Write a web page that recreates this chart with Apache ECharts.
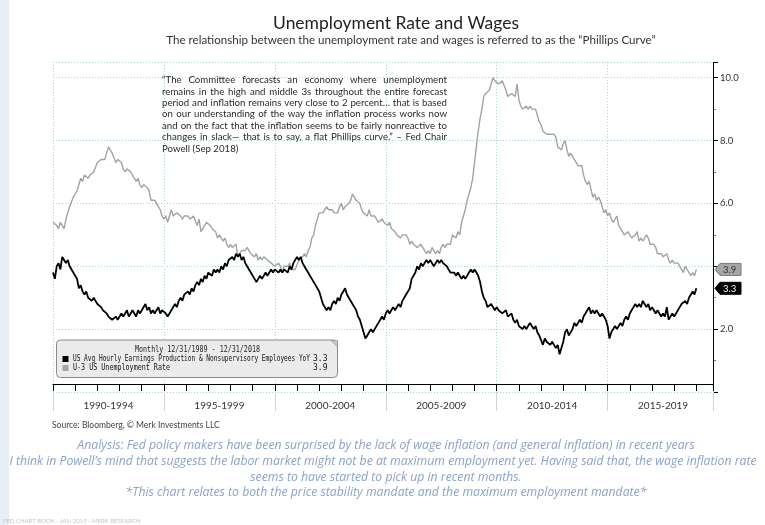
<!DOCTYPE html>
<html><head><meta charset="utf-8">
<script src="https://cdn.jsdelivr.net/npm/echarts@6/dist/echarts.min.js"></script>
<style>html,body{margin:0;padding:0;background:#fff}#c{width:765px;height:525px}</style>
</head><body><div id="c"></div>
<script>
// ---------------- DATA ----------------
// Monthly, first point = 12/31/1989 (plotted at 1990.0), last = 12/31/2018
const startYear = 1990;
const wageYoY = [
3.8,
3.6,4.0,4.1,3.9,4.3,4.2,4.1,4.2,4.0,3.9,3.8,3.7,
3.6,3.3,3.4,3.2,3.1,3.2,3.0,3.0,2.9,3.0,2.9,2.8,
2.8,2.7,2.6,2.6,2.5,2.4,2.4,2.3,2.3,2.4,2.3,2.4,
2.5,2.4,2.5,2.6,2.4,2.5,2.6,2.5,2.4,2.6,2.5,2.6,
2.6,2.8,2.6,2.7,2.5,2.6,2.5,2.6,2.7,2.5,2.6,2.6,
2.5,2.4,2.5,2.6,2.6,2.8,2.7,2.9,3.0,2.9,3.1,3.1,
3.2,3.1,3.3,3.2,3.4,3.5,3.4,3.6,3.5,3.7,3.6,3.8,
3.8,3.7,3.9,3.8,3.9,3.8,4.0,3.9,4.1,4.0,4.2,4.2,
4.3,4.2,4.4,4.3,4.4,4.2,4.3,4.1,4.0,3.9,3.8,3.7,
3.6,3.5,3.6,3.7,3.6,3.7,3.8,3.7,3.8,3.9,3.8,3.9,
3.9,3.8,3.9,3.8,3.9,3.9,3.8,4.0,3.9,4.1,4.2,4.3,
4.2,4.3,4.1,4.0,3.9,3.8,3.7,3.6,3.5,3.4,3.4,3.2,
3.0,2.8,2.7,2.6,2.7,2.6,2.8,2.9,2.8,3.0,2.9,3.1,
3.2,3.3,3.1,3.0,3.0,2.8,2.7,2.6,2.4,2.3,2.1,1.9,
1.7,1.8,1.9,2.0,1.9,2.0,2.0,2.2,2.3,2.4,2.3,2.5,
2.6,2.5,2.6,2.7,2.6,2.7,2.8,2.7,2.9,3.0,3.1,3.2,
3.3,3.6,3.7,3.8,4.0,3.9,4.1,4.0,4.1,4.2,4.1,4.2,
4.2,4.0,4.1,4.2,4.1,4.2,4.1,4.1,4.0,3.9,3.8,3.8,
3.8,3.7,3.8,3.7,3.6,3.7,3.6,3.7,3.8,3.9,3.8,3.9,
3.8,3.7,3.5,3.2,3.0,2.9,2.7,2.7,2.8,2.7,2.6,2.7,
2.6,2.6,2.5,2.5,2.6,2.4,2.4,2.5,2.3,2.2,2.3,2.1,
2.1,2.0,2.1,2.0,2.1,2.2,2.1,2.0,2.1,1.9,1.8,1.8,
1.5,1.7,1.6,1.6,1.5,1.6,1.5,1.4,1.5,1.2,1.4,1.6,
1.9,2.0,1.8,1.9,2.0,2.2,2.1,2.2,2.3,2.2,2.4,2.5,
2.6,2.7,2.5,2.6,2.5,2.6,2.5,2.4,2.5,2.4,2.3,2.1,
1.7,1.9,2.0,2.1,2.0,2.1,2.2,2.1,2.3,2.4,2.3,2.5,
2.6,2.7,2.8,2.7,2.8,2.7,2.9,2.8,2.7,2.8,2.6,2.7,
2.6,2.5,2.6,2.5,2.4,2.5,2.4,2.7,2.3,2.4,2.5,2.4,
2.5,2.6,2.7,2.8,2.8,2.9,2.8,3.0,3.0,3.2,3.1,3.3
];
const unemployment = [
5.4,
5.4,5.3,5.2,5.4,5.4,5.2,5.5,5.7,5.9,5.9,6.2,6.3,
6.4,6.6,6.8,6.7,6.9,6.9,6.8,6.9,6.9,7.0,7.0,7.3,
7.3,7.4,7.4,7.4,7.6,7.8,7.7,7.6,7.6,7.3,7.4,7.4,
7.3,7.1,7.0,7.1,7.1,7.0,6.9,6.8,6.7,6.8,6.6,6.5,
6.6,6.6,6.5,6.4,6.1,6.1,6.1,6.0,5.9,5.8,5.6,5.5,
5.6,5.4,5.4,5.8,5.6,5.6,5.7,5.7,5.6,5.5,5.6,5.6,
5.6,5.5,5.5,5.6,5.6,5.3,5.5,5.1,5.2,5.2,5.4,5.4,
5.3,5.2,5.2,5.1,4.9,5.0,4.9,4.8,4.9,4.7,4.6,4.7,
4.6,4.6,4.7,4.3,4.4,4.5,4.5,4.5,4.6,4.5,4.4,4.4,
4.3,4.4,4.2,4.3,4.2,4.3,4.3,4.2,4.2,4.1,4.1,4.0,
4.0,4.1,4.0,3.8,4.0,4.0,4.0,4.1,3.9,3.9,3.9,3.9,
4.2,4.2,4.3,4.4,4.3,4.5,4.6,4.9,5.0,5.3,5.5,5.7,
5.7,5.7,5.7,5.9,5.8,5.8,5.8,5.7,5.7,5.7,5.9,6.0,
5.8,5.9,5.9,6.0,6.1,6.3,6.2,6.1,6.1,6.0,5.8,5.7,
5.7,5.6,5.8,5.6,5.6,5.6,5.5,5.4,5.4,5.5,5.4,5.4,
5.3,5.4,5.2,5.2,5.1,5.0,5.0,4.9,5.0,5.0,5.0,4.9,
4.7,4.8,4.7,4.7,4.6,4.6,4.7,4.7,4.5,4.4,4.5,4.4,
4.6,4.5,4.4,4.5,4.4,4.6,4.7,4.6,4.7,4.7,4.7,5.0,
5.0,4.9,5.1,5.0,5.4,5.6,5.8,6.1,6.1,6.5,6.8,7.3,
7.8,8.3,8.7,9.0,9.4,9.5,9.5,9.6,9.8,10.0,9.9,9.9,
9.8,9.8,9.9,9.9,9.6,9.4,9.4,9.5,9.5,9.4,9.8,9.3,
9.1,9.0,9.0,9.1,9.0,9.1,9.0,9.0,9.0,8.8,8.6,8.5,
8.3,8.3,8.2,8.2,8.2,8.2,8.2,8.1,7.8,7.8,7.7,7.9,
8.0,7.7,7.5,7.6,7.5,7.5,7.3,7.2,7.2,7.2,6.9,6.7,
6.6,6.7,6.7,6.2,6.3,6.1,6.2,6.1,5.9,5.7,5.8,5.6,
5.7,5.5,5.4,5.4,5.6,5.3,5.2,5.1,5.0,5.0,5.1,5.0,
4.9,4.9,5.0,5.1,4.8,4.9,4.8,4.9,5.0,4.9,4.7,4.7,
4.7,4.6,4.4,4.4,4.4,4.3,4.3,4.4,4.2,4.1,4.2,4.1,
4.1,4.1,4.0,4.0,3.8,4.0,3.9,3.8,3.7,3.8,3.7,3.9
];
const xBandLabels = ['1990-1994','1995-1999','2000-2004','2005-2009','2010-2014','2015-2019'];
const yLabelValues = [2, 6, 8, 10];
const seriesNames = ['US Avg Hourly Earnings Production & Nonsupervisory Employees YoY', 'U-3 US Unemployment Rate'];
const rangeLabel = 'Monthly 12/31/1989 - 12/31/2018';
const titleText = 'Unemployment Rate and Wages';
const subtitleText = 'The relationship between the unemployment rate and wages is referred to as the \u201CPhillips Curve\u201D';
const quoteLines = [
 '\u201CThe Committee forecasts an economy where unemployment',
 'remains in the high and middle 3s throughout the entire forecast',
 'period and inflation remains very close to 2 percent\u2026 that is based',
 'on our understanding of the way the inflation process works now',
 'and on the fact that the inflation seems to be fairly nonreactive to',
 'changes in slack\u2014 that is to say, a flat Phillips curve.\u201D \u2013 Fed Chair',
 'Powell (Sep 2018)'
];
const sourceText = 'Source: Bloomberg, \u00A9 Merk Investments LLC';
const analysisLines = [
 'Analysis: Fed policy makers have been surprised by the lack of wage inflation (and general inflation) in recent years',
 'I think in Powell\u2019s mind that suggests the labor market might not be at maximum employment yet. Having said that, the wage inflation rate',
 'seems to have started to pick up in recent months.',
 '*This chart relates to both the price stability mandate and the maximum employment mandate*'
];
const footerText = 'FED CHART BOOK - JAN 2019 - MERK RESEARCH';

// ---------------- CHART ----------------
const toPts = arr => arr.map((v, i) => [startYear + i / 12, v]);
const X_MIN = 1990, X_MAX = 2019.75;
const GRID = '#9fd6de';
const gridLine = {show: true, lineStyle: {color: GRID, type: [1, 2], width: 1, opacity: 1}};
const chart = echarts.init(document.getElementById('c'), null, {renderer: 'canvas'});

const baseX = {
  type: 'value', min: X_MIN, max: X_MAX, position: 'bottom', offset: -8,
  axisLine: {show: false}, axisTick: {show: false}, axisLabel: {show: false},
  splitLine: {show: false}, minorSplitLine: {show: false}
};

chart.setOption({
  animation: false,
  backgroundColor: '#fff',
  grid: {left: 53, right: 52, top: 62, bottom: 133},
  xAxis: [
    Object.assign({}, baseX, {
      interval: 1,
      axisLine: {show: true, lineStyle: {color: '#000', width: 1}},
      axisTick: {show: true, inside: false, length: 7, lineStyle: {color: '#000', width: 1}},
      z: 5
    }),
    Object.assign({}, baseX, {
      interval: 5,
      axisTick: {show: true, inside: false, length: 27, lineStyle: {color: '#d4d4d4', width: 1}},
      splitLine: gridLine,
      z: 1
    }),
    Object.assign({}, baseX, {
      interval: 2.5,
      axisLabel: {
        show: true, margin: 17, color: '#333', fontSize: 10, fontFamily: 'Lato',
        showMinLabel: false, showMaxLabel: false,
        formatter: v => {
          const k = (v - 1992.5) / 5;
          return (Math.abs(k - Math.round(k)) < 1e-6 && xBandLabels[Math.round(k)]) ? xBandLabels[Math.round(k)] : '';
        }
      }
    })
  ],
  yAxis: {
    type: 'value', position: 'right', min: 0, max: 10.5, interval: 2,
    axisLine: {show: false},
    axisTick: {show: true, inside: false, length: 5, lineStyle: {color: '#000'}},
    minorTick: {show: true, splitNumber: 2, length: 3, lineStyle: {color: '#777'}},
    minorSplitLine: {show: false},
    axisLabel: {
      show: true, margin: 7, color: '#333', fontSize: 9.5, fontFamily: 'Lato',
      formatter: v => yLabelValues.indexOf(v) >= 0 ? v.toFixed(1) : ''
    },
    splitLine: gridLine
  },
  series: [
    {name: seriesNames[1], type: 'line', data: toPts(unemployment), showSymbol: false, xAxisIndex: 0,
     lineStyle: {color: '#a3a3a3', width: 1.4}, itemStyle: {color: '#a3a3a3'}, z: 3},
    {name: seriesNames[0], type: 'line', data: toPts(wageYoY), showSymbol: false, xAxisIndex: 0,
     lineStyle: {color: '#000', width: 1.8}, itemStyle: {color: '#000'}, z: 4}
  ]
});

// ---------------- TEXT / ANNOTATIONS ----------------
const cv = document.createElement('canvas').getContext('2d');
function measure(t, size, family, style, weight) {
  cv.font = `${style || 'normal'} ${weight || 'normal'} ${size}px ${family}`;
  return cv.measureText(t).width;
}
const G = [];
function txt(t, x, y, o) {
  o = o || {};
  let size = o.size || 10;
  const fam = o.family || 'Lato';
  if (o.fitW) size = size * o.fitW / measure(t, size, fam, o.style, o.weight);
  const el = {
    type: 'text', x: x, y: y, z: 100, silent: true,
    style: {text: t, fill: o.color || '#333', fontSize: size, fontFamily: fam,
      fontStyle: o.style || 'normal', fontWeight: o.weight || 'normal',
      align: o.align || 'left', verticalAlign: o.va || 'middle'}
  };
  if (o.squeezeW) {
    el.scaleX = o.squeezeW / measure(t, size, fam, o.style, o.weight);
  }
  G.push(el);
  return size;
}

// left page strip
G.push({type: 'rect', shape: {x: 0, y: 0, width: 9, height: 525}, style: {fill: '#e8eef5'}, z: 0, silent: true});

// titles
txt(titleText, 396, 23.5, {size: 18, fitW: 246, color: '#222', align: 'center'});
txt(subtitleText, 411, 40, {size: 10, fitW: 490, color: '#333', align: 'center'});

// justified quote
(function () {
  const fam = 'Lato', L = 162, R = 447, W = R - L;
  let maxW = 0;
  quoteLines.forEach(l => maxW = Math.max(maxW, measure(l, 10, fam)));
  const size = Math.min(10, 10 * W / maxW * 0.985);
  quoteLines.forEach((line, i) => {
    const y = 80 + i * 11.4;
    if (i === quoteLines.length - 1) { txt(line, L, y, {size: size, family: fam, color: '#2a2a2a'}); return; }
    const words = line.split(' ');
    const ws = words.map(w => measure(w, size, fam));
    const tot = ws.reduce((a, b) => a + b, 0);
    const gap = (W - tot) / (words.length - 1);
    let x = L;
    words.forEach((w, j) => { txt(w, x, y, {size: size, family: fam, color: '#2a2a2a'}); x += ws[j] + gap; });
  });
})();

// legend box
G.push({type: 'rect', shape: {x: 56.5, y: 340, width: 281, height: 37.5, r: 4}, z: 90, silent: true,
  style: {fill: '#ebebeb', stroke: '#8a8a8a', lineWidth: 1}});
G.push({type: 'polygon', shape: {points: [[331, 340.5], [337.5, 340.5], [337.5, 347]]}, z: 91, silent: true,
  style: {fill: '#c8c8c8', stroke: '#9a9a9a', lineWidth: 0.8}});
const mono = 'DejaVu Sans Mono';
txt(rangeLabel, 135, 350, {size: 8, family: mono, color: '#222', squeezeW: 125});
G.push({type: 'rect', shape: {x: 62.5, y: 356, width: 6, height: 6}, style: {fill: '#000'}, z: 95, silent: true});
G.push({type: 'rect', shape: {x: 62.5, y: 365, width: 6, height: 6}, style: {fill: '#a6a6a6'}, z: 95, silent: true});
txt(seriesNames[0], 73, 359, {size: 8, family: mono, color: '#111', squeezeW: 237});
txt(seriesNames[1], 73, 368, {size: 8, family: mono, color: '#111', squeezeW: 97});
txt(wageYoY[wageYoY.length - 1].toFixed(1), 327.5, 359, {size: 8, family: mono, color: '#111', align: 'right'});
txt(unemployment[unemployment.length - 1].toFixed(1), 327.5, 368, {size: 8, family: mono, color: '#111', align: 'right'});

// source, analysis, footer
txt(sourceText, 52, 425, {size: 9.5, fitW: 168, color: '#444'});
const aSize = txt(analysisLines[1], 383, 462, {size: 11, fitW: 748, style: 'italic', family: 'Open Sans', color: '#8aa3c6', align: 'center'});
[[0, 446], [2, 477.5], [3, 493]].forEach(([i, y]) =>
  txt(analysisLines[i], 386, y, {size: aSize, style: 'italic', family: 'Open Sans', color: '#8aa3c6', align: 'center'}));
txt(footerText, 3, 521, {size: 6, color: '#c4c4c4'});

// y-axis line and end-value tags, positioned through the chart's own scales
const pTop = chart.convertToPixel({xAxisIndex: 0, yAxisIndex: 0}, [X_MAX, 10.5]);
const pBot = chart.convertToPixel({xAxisIndex: 0, yAxisIndex: 0}, [X_MAX, 0.25]);
G.push({type: 'line', shape: {x1: pTop[0] + 0.5, y1: pTop[1], x2: pTop[0] + 0.5, y2: pBot[1]}, z: 50, silent: true,
  style: {stroke: '#000', lineWidth: 1}});
function tag(val, fill, stroke, color) {
  const p = chart.convertToPixel({xAxisIndex: 0, yAxisIndex: 0}, [X_MAX, val]);
  const x0 = p[0] + 2, y = p[1];
  G.push({type: 'polygon', z: 60, silent: true,
    shape: {points: [[x0, y], [x0 + 5, y - 6], [x0 + 26, y - 6], [x0 + 26, y + 6], [x0 + 5, y + 6]]},
    style: {fill: fill, stroke: stroke, lineWidth: 1}});
  G.push({type: 'text', x: x0 + 8, y: y + 0.5, z: 61, silent: true,
    style: {text: val.toFixed(1), fill: color, fontSize: 9.5, fontFamily: 'Lato', verticalAlign: 'middle'}});
}
tag(unemployment[unemployment.length - 1], '#a6a6a6', '#7a7a7a', '#333');
tag(wageYoY[wageYoY.length - 1], '#000', '#000', '#fff');

chart.setOption({graphic: {elements: G}});
</script>
</body></html>
